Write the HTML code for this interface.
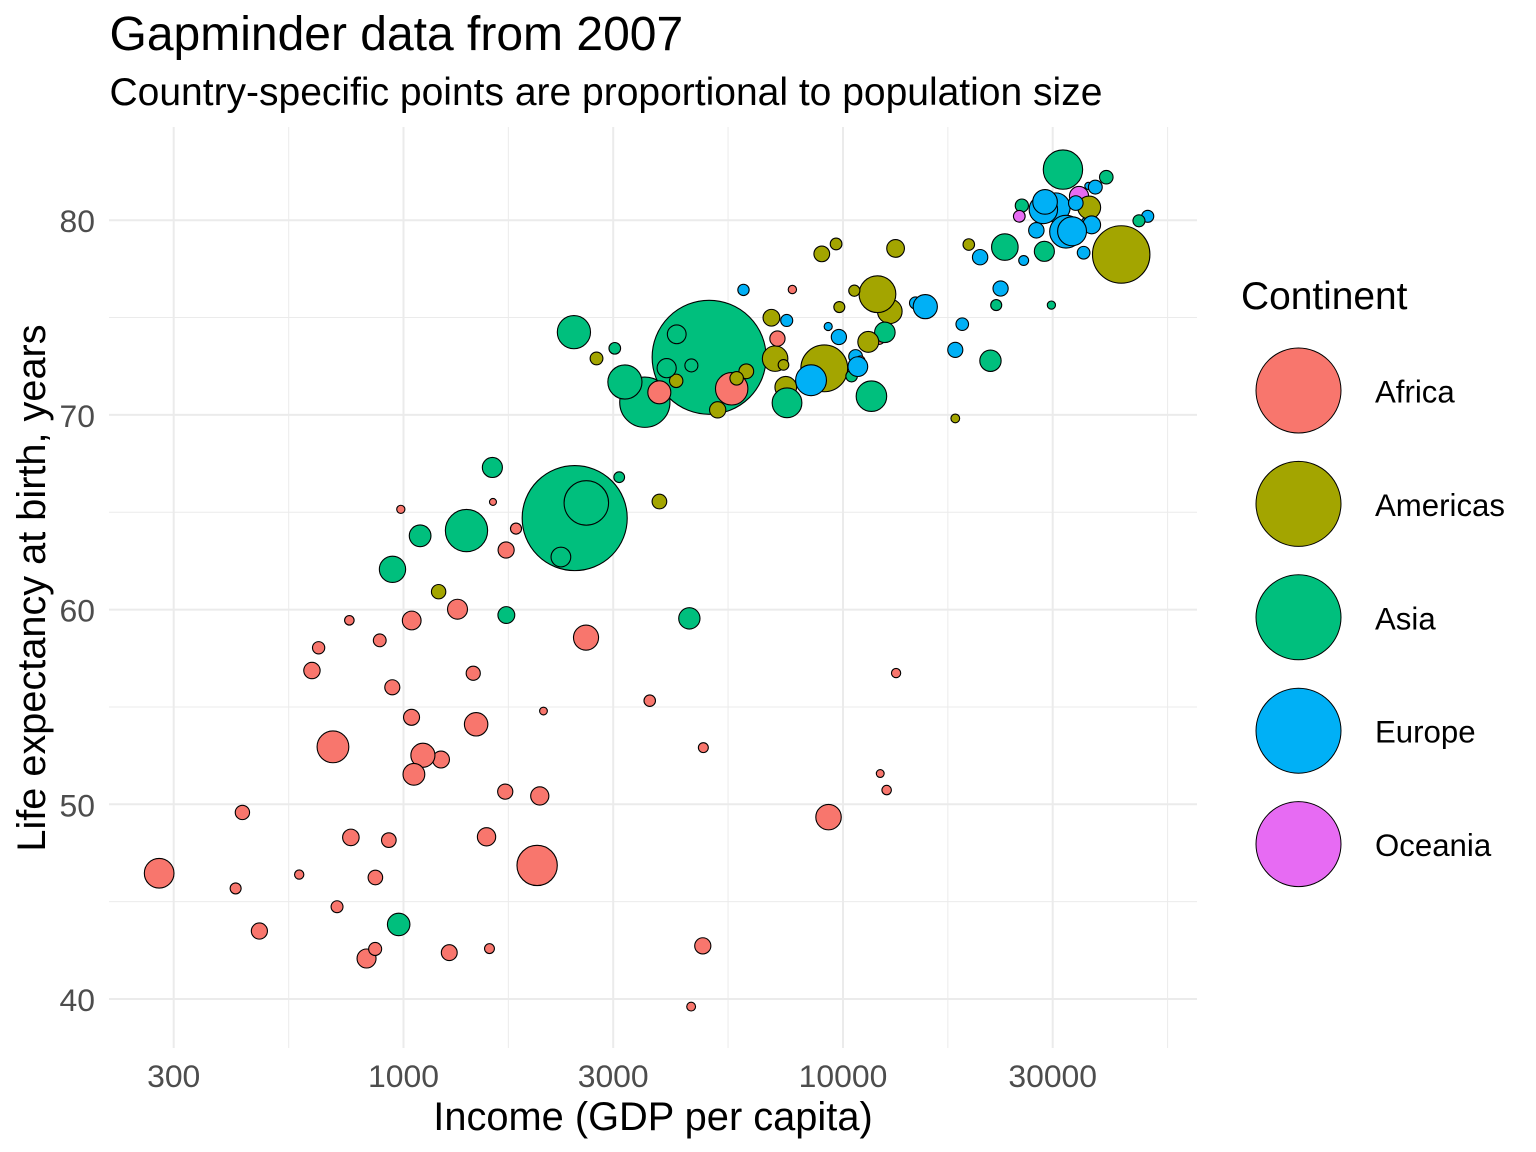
<!DOCTYPE html>
<html lang="en">
<head>
<meta charset="utf-8">
<title>Gapminder data from 2007</title>
<style>
html,body{margin:0;padding:0;background:#fff;width:1536px;height:1152px;overflow:hidden}
svg{display:block}
text{font-family:"Liberation Sans",Arial,sans-serif}
</style>
</head>
<body>
<svg id="chart" xmlns="http://www.w3.org/2000/svg" width="1536" height="1152" viewBox="0 0 1536 1152">
  <text x="109.5" y="50" font-size="48" fill="#000">Gapminder data from 2007</text>
  <text x="109.5" y="105" font-size="39" fill="#000">Country-specific points are proportional to population size</text>
  <g id="grid"></g>
  <g id="points"></g>
  <g id="xticks"></g>
  <g id="yticks"></g>
  <text x="653" y="1130" font-size="39.8" text-anchor="middle" fill="#000">Income (GDP per capita)</text>
  <text transform="translate(45 588) rotate(-90)" font-size="39.7" text-anchor="middle" fill="#000">Life expectancy at birth, years</text>
  <text x="1241" y="309" font-size="38.9" fill="#000">Continent</text>
  <g id="legend"></g>
</svg>
<script>
const countries = ["Afghanistan","Albania","Algeria","Angola","Argentina","Australia","Austria","Bahrain","Bangladesh","Belgium","Benin","Bolivia","Bosnia and Herzegovina","Botswana","Brazil","Bulgaria","Burkina Faso","Burundi","Cambodia","Cameroon","Canada","Central African Republic","Chad","Chile","China","Colombia","Comoros","Congo Dem Rep","Congo Rep","Costa Rica","Cote d'Ivoire","Croatia","Cuba","Czech Republic","Denmark","Djibouti","Dominican Republic","Ecuador","Egypt","El Salvador","Equatorial Guinea","Eritrea","Ethiopia","Finland","France","Gabon","Gambia","Germany","Ghana","Greece","Guatemala","Guinea","Guinea-Bissau","Haiti","Honduras","Hong Kong","Hungary","Iceland","India","Indonesia","Iran","Iraq","Ireland","Israel","Italy","Jamaica","Japan","Jordan","Kenya","Korea Dem Rep","Korea Rep","Lebanon","Lesotho","Liberia","Libya","Madagascar","Malawi","Malaysia","Mali","Mauritania","Mauritius","Mexico","Mongolia","Montenegro","Morocco","Mozambique","Myanmar","Namibia","Nepal","Netherlands","New Zealand","Nicaragua","Niger","Nigeria","Norway","Oman","Pakistan","Panama","Paraguay","Peru","Philippines","Poland","Portugal","Puerto Rico","Reunion","Romania","Rwanda","Sao Tome and Principe","Saudi Arabia","Senegal","Serbia","Sierra Leone","Singapore","Slovak Republic","Slovenia","Somalia","South Africa","Spain","Sri Lanka","Sudan","Swaziland","Sweden","Switzerland","Syria","Taiwan","Tanzania","Thailand","Togo","Trinidad and Tobago","Tunisia","Turkey","Uganda","United Kingdom","United States","Uruguay","Venezuela","Vietnam","West Bank and Gaza","Yemen","Zambia","Zimbabwe"];
const continents = ["Asia","Europe","Africa","Africa","Americas","Oceania","Europe","Asia","Asia","Europe","Africa","Americas","Europe","Africa","Americas","Europe","Africa","Africa","Asia","Africa","Americas","Africa","Africa","Americas","Asia","Americas","Africa","Africa","Africa","Americas","Africa","Europe","Americas","Europe","Europe","Africa","Americas","Americas","Africa","Americas","Africa","Africa","Africa","Europe","Europe","Africa","Africa","Europe","Africa","Europe","Americas","Africa","Africa","Americas","Americas","Asia","Europe","Europe","Asia","Asia","Asia","Asia","Europe","Asia","Europe","Americas","Asia","Asia","Africa","Asia","Asia","Asia","Africa","Africa","Africa","Africa","Africa","Asia","Africa","Africa","Africa","Americas","Asia","Europe","Africa","Africa","Asia","Africa","Asia","Europe","Oceania","Americas","Africa","Africa","Europe","Asia","Asia","Americas","Americas","Americas","Asia","Europe","Europe","Americas","Africa","Europe","Africa","Africa","Asia","Africa","Europe","Africa","Asia","Europe","Europe","Africa","Africa","Europe","Asia","Africa","Africa","Europe","Europe","Asia","Asia","Africa","Asia","Africa","Americas","Africa","Europe","Africa","Europe","Americas","Americas","Americas","Asia","Asia","Asia","Africa","Africa"];
const gdpPerCapita = [975,5937,6223,4797,12779,34435,36126,29796,1391,33692,1441,3822,7446,12570,9065,10681,1217,430,1714,2042,36319,706,1704,13172,4959,7007,986,278,3633,9645,1545,14619,8948,22833,35278,2082,6025,6873,5581,5728,12154,641,691,33207,30470,13206,753,32170,1327,27538,5186,943,579,1202,3548,39725,18009,36181,2452,3541,11606,4471,40676,25523,28570,7321,31656,4519,1463,1593,23348,10461,1569,415,12057,1044,759,12452,1043,1803,10957,11978,3096,9254,3820,824,944,4811,1091,36798,25185,2749,619,2014,49357,22316,2606,9809,4173,7409,3190,15390,20510,19329,7670,10808,863,1598,21654,1712,9787,862,47143,18678,25768,926,9270,28821,3970,2602,4513,33860,37506,4185,28718,1107,7458,883,18009,7093,8458,1056,33203,42952,10611,11416,2442,3025,2281,1271,470];
const lifeExp = [43.83,76.42,72.3,42.73,75.32,81.24,79.83,75.64,64.06,79.44,56.73,65.55,74.85,50.73,72.39,73.0,52.3,49.58,59.72,50.43,80.65,44.74,50.65,78.55,72.96,72.89,65.15,46.46,55.32,78.78,48.33,75.75,78.27,76.49,78.33,54.79,72.24,74.99,71.34,71.88,51.58,58.04,52.95,79.31,80.66,56.74,59.45,79.41,60.02,79.48,70.26,56.01,46.39,60.92,70.2,82.21,73.34,81.76,64.7,70.65,70.96,59.55,78.89,80.75,80.55,72.57,82.6,72.54,54.11,67.3,78.62,71.99,42.59,45.68,73.95,59.44,48.3,74.24,54.47,64.16,72.8,76.2,66.8,74.54,71.16,42.08,62.07,52.91,63.79,79.76,80.2,72.9,56.87,46.86,80.2,75.64,65.48,75.54,71.75,71.42,71.69,75.56,78.1,78.75,76.44,72.48,46.24,65.53,72.78,63.06,74.0,42.57,79.97,74.66,77.93,48.16,49.34,80.94,72.4,58.56,39.61,80.88,81.7,74.14,78.4,52.52,70.62,58.42,69.82,73.92,71.78,51.54,79.43,78.24,76.38,73.75,74.25,73.42,62.7,42.38,43.49];
const populationMillions = [31.9,3.6,33.3,12.4,40.3,20.4,8.2,0.71,150.4,10.4,8.1,9.1,4.55,1.64,190,7.3,14.3,8.4,14.1,17.7,33.4,4.4,10.2,16.3,1318.7,44.2,0.71,64.6,3.8,4.1,18,4.5,11.4,10.2,5.5,0.5,9.3,13.8,80.3,6.9,0.55,4.9,76.5,5.2,61,1.45,1.69,82.4,22.9,10.7,12.6,9.9,1.47,8.5,7.5,7,10,0.3,1110.4,223.5,69.5,27.5,4.1,6.4,58.1,2.8,127.5,6.05,35.6,23.3,49,3.9,2,3.2,6,19.2,13.3,24.8,12,3.3,1.25,108.7,2.87,0.68,33.8,20,47.8,2.06,28.9,16.6,4.1,5.7,12.9,135,4.6,3.2,169.3,3.2,6.7,28.7,91.1,38.5,10.6,3.9,0.8,22.3,8.9,0.2,27.6,12.3,10.2,6.1,4.55,5.4,2,9.1,44,40.4,20.4,42.3,1.13,9,7.55,19.3,23.2,38.1,65.1,5.7,1.06,10.3,71.2,29.2,60.8,301.1,3.4,26.1,85.3,4,22.2,11.7,12.3];
const xTickValues = [300,1000,3000,10000,30000];
const xMinorValues = [548,1732,5477,17320,54772];
const yTickValues = [40,50,60,70,80];
const yMinorValues = [45,55,65,75];
const legendEntries = ["Africa","Americas","Asia","Europe","Oceania"];
const legendColors = ["#F8766D","#A3A500","#00BF7D","#00B0F6","#E76BF3"];

const SVGNS = "http://www.w3.org/2000/svg";
const panel = {left:109, right:1197, top:127, bottom:1048};
function xScale(g){ return 403.5 + 439.5 * Math.log10(g / 1000); }
function yScale(l){ return 999 - (l - 40) * 19.47; }
function rScale(p){
  const lo = Math.sqrt(Math.min.apply(null, populationMillions));
  const hi = Math.sqrt(Math.max.apply(null, populationMillions));
  return 4 + 53.5 * (Math.sqrt(p) - lo) / (hi - lo);
}
function make(tag, attrs, parent){
  const el = document.createElementNS(SVGNS, tag);
  for (const k in attrs) el.setAttribute(k, attrs[k]);
  parent.appendChild(el);
  return el;
}
const grid = document.getElementById("grid");
xMinorValues.forEach(function(v){
  const l = make("line",{x1:xScale(v),x2:xScale(v),y1:panel.top,y2:panel.bottom,stroke:"#EBEBEB","stroke-width":1},grid);
  
  
});
yMinorValues.forEach(function(v){
  const l = make("line",{x1:panel.left,x2:panel.right,y1:yScale(v),y2:yScale(v),stroke:"#EBEBEB","stroke-width":1},grid);
  
  
});
xTickValues.forEach(function(v){
  const l = make("line",{x1:xScale(v),x2:xScale(v),y1:panel.top,y2:panel.bottom,stroke:"#EBEBEB","stroke-width":2},grid);
  
  
});
yTickValues.forEach(function(v){
  const l = make("line",{x1:panel.left,x2:panel.right,y1:yScale(v),y2:yScale(v),stroke:"#EBEBEB","stroke-width":2},grid);
  
  
});
const xt = document.getElementById("xticks");
xTickValues.forEach(function(v){
  const t = make("text",{x:xScale(v),y:1087,"font-size":31.9,"text-anchor":"middle",fill:"#4D4D4D"},xt);
  
  
  t.textContent = String(v);
});
const yt = document.getElementById("yticks");
yTickValues.forEach(function(v){
  const t = make("text",{x:95,y:yScale(v)+12,"font-size":31.9,"text-anchor":"end",fill:"#4D4D4D"},yt);
  
  
  t.textContent = String(v);
});
const pts = document.getElementById("points");
countries.forEach(function(name, i){
  const c = make("circle",{cx:xScale(gdpPerCapita[i]),cy:yScale(lifeExp[i]),r:rScale(populationMillions[i])-0.5,
    fill:legendColors[legendEntries.indexOf(continents[i])],stroke:"#000","stroke-width":1.1},pts);
  
  
});
const lg = document.getElementById("legend");
legendEntries.forEach(function(name, i){
  const cy = 390.5 + i * 113.4;
  const c = make("circle",{cx:1298.5,cy:cy,r:42.5,fill:legendColors[i],stroke:"#000","stroke-width":1},lg);
  
  
  const t = make("text",{x:1375,y:cy+12,"font-size":31.2,fill:"#000"},lg);
  
  
  t.textContent = name;
});
</script>
</body>
</html>
